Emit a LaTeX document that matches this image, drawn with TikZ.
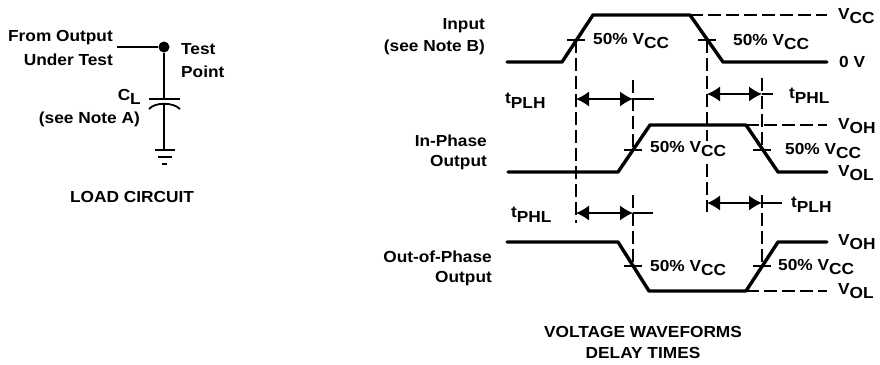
\documentclass[tikz,border=0pt]{standalone}
\usepackage{fontspec}
\setmainfont[FakeStretch=1.08]{Liberation Sans}
\usetikzlibrary{arrows.meta}

\newcommand{\Vsub}[2]{#1\raisebox{-4.5pt}{#2}}
\newcommand{\tsub}[1]{t\raisebox{-4.5pt}{#1}}

\tikzset{
    lbl/.style = {inner sep = 0pt, font = \fontsize{16}{18}\selectfont\bfseries},
    lbll/.style = {lbl, anchor = west},
    lblr/.style = {lbl, anchor = east},
    wave/.style = {line width = 3.4pt, line join = round, line cap = round},
    thin line/.style = {line width = 1.5pt},
    guide/.style = {line width = 1.4pt, dash pattern = on 13pt off 5pt},
    span/.style = {line width = 1.3pt, {Latex[length=13pt,width=15pt]}-{Latex[length=13pt,width=15pt]}}
}

\begin{document}
\begin{tikzpicture}[x = 1pt, y = -1pt]
    \useasboundingbox (0,0) rectangle (880,364);

    % load circuit
    \node [circle, fill = black, inner sep = 0pt, minimum size = 11pt] (tp) at (164,47) {};
    \coordinate (from) at (117,47);
    \coordinate (platetop) at (164,99);
    \coordinate (platelow) at (164,104);
    \coordinate (gnd) at (164,150);
    \draw [thin line] (from) -- (tp);
    \draw [thin line] (tp) -- (platetop);
    \draw [thin line] (platelow) -- (gnd);
    \draw [line width = 1.8pt] (149,99) -- (180,99);
    \draw [line width = 1.8pt] (149,109) .. controls (155,102) and (173,102) .. (180,109);
    \draw [line width = 1.8pt] (155,150) -- (175,150);
    \draw [line width = 1.5pt] (158,157) -- (172,157);
    \draw [line width = 1.5pt] (162,164) -- (167,164);

    \node [lblr] (fromout) at (113,38) {From Output};
    \node [lblr] (undertest) at (113,60) {Under Test};
    \node [lbll] (testa) at (181,49) {Test};
    \node [lbll] (testb) at (181,72) {Point};
    \node [lblr] (cl) at (141,97) {\Vsub{C}{L}};
    \node [lblr] (notea) at (140,119) {(see Note A)};
    \node [lbl] (load) at (132,197) {LOAD CIRCUIT};

    % waveforms
    \draw [wave] (507,62) -- (562,62) -- (593,15) -- (690,15) -- (723,62) -- (827,62);
    \draw [wave] (508,172) -- (618,172) -- (650,125) -- (746,125) -- (778,172) -- (827,172);
    \draw [wave] (507,242) -- (618,242) -- (649,291) -- (746,291) -- (778,242) -- (827,242);

    \draw [guide] (690,15) -- (827,15);
    \draw [guide] (746,125) -- (827,125);
    \draw [guide] (746,291) -- (827,291);

    \foreach \x/\y in {576/40, 707/40, 633/150, 762/150, 633/266, 762/266}
        \draw [thin line] (\x-9,\y) -- (\x+9,\y);

    \draw [guide] (576,40) -- (576,223);
    \draw [guide] (707,40) -- (707,141);
    \draw [guide] (707,164) -- (707,212);
    \draw [guide] (633,80) -- (633,150);
    \draw [guide] (762,78) -- (762,150);
    \draw [guide] (633,195) -- (633,266);
    \draw [guide] (762,195) -- (762,266);

    % delay arrows
    \coordinate (pla) at (576,99);
    \coordinate (plb) at (633,99);
    \coordinate (plc) at (654,99);
    \coordinate (pha) at (707,94);
    \coordinate (phb) at (762,94);
    \coordinate (phc) at (773,94);
    \coordinate (pld) at (576,213);
    \coordinate (ple) at (633,213);
    \coordinate (plf) at (653,213);
    \coordinate (phd) at (707,203);
    \coordinate (phe) at (762,203);
    \coordinate (phf) at (782,203);
    \draw [span] (pla) -- (plb);
    \draw [thin line] (plb) -- (plc);
    \draw [span] (pha) -- (phb);
    \draw [thin line] (phb) -- (phc);
    \draw [span] (pld) -- (ple);
    \draw [thin line] (ple) -- (plf);
    \draw [span] (phd) -- (phe);
    \draw [thin line] (phe) -- (phf);

    \node [lbll] (tplha) at (505,101) {\tsub{PLH}};
    \node [lbll] (tphla) at (789,96) {\tsub{PHL}};
    \node [lbll] (tphlb) at (511,215) {\tsub{PHL}};
    \node [lbll] (tplhb) at (791,205) {\tsub{PLH}};

    % level labels
    \node [lbll] (vcc) at (838,16) {\Vsub{V}{CC}};
    \node [lbll] (zero) at (839,62) {0 V};
    \node [lbll] (voha) at (838,126) {\Vsub{V}{OH}};
    \node [lbll] (vola) at (838,173) {\Vsub{V}{OL}};
    \node [lbll] (vohb) at (838,242) {\Vsub{V}{OH}};
    \node [lbll] (volb) at (838,291) {\Vsub{V}{OL}};

    \node [lbll] (pa) at (593,41) {50\% \Vsub{V}{CC}};
    \node [lbll] (pb) at (733,42) {50\% \Vsub{V}{CC}};
    \node [lbll] (pc) at (650,149) {50\% \Vsub{V}{CC}};
    \node [lbll] (pd) at (785,151) {50\% \Vsub{V}{CC}};
    \node [lbll] (pe) at (650,268) {50\% \Vsub{V}{CC}};
    \node [lbll] (pf) at (778,267) {50\% \Vsub{V}{CC}};

    \node [lblr] (ina) at (485,26) {Input};
    \node [lblr] (inb) at (485,47) {(see Note B)};
    \node [lblr] (ipa) at (487,141) {In-Phase};
    \node [lblr] (ipb) at (487,163) {Output};
    \node [lblr] (opa) at (492,257) {Out-of-Phase};
    \node [lblr] (opb) at (492,279) {Output};

    \node [lbl] (tita) at (643,332) {VOLTAGE WAVEFORMS};
    \node [lbl] (titb) at (643,353) {DELAY TIMES};
\end{tikzpicture}
\end{document}
